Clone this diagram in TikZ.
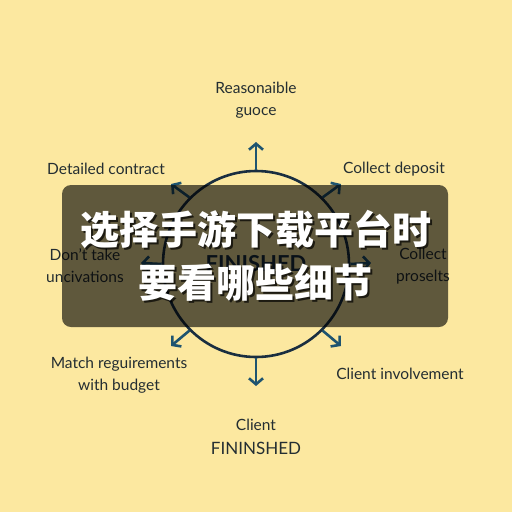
\documentclass[tikz,border=0pt]{standalone}
\usepackage{fontspec}
\setmainfont{Lato}
\newfontfamily\cjk{Noto Sans CJK SC}
\usetikzlibrary{arrows.meta}
\definecolor{bg}{RGB}{252,232,160}
\definecolor{ink}{RGB}{36,46,50}
\definecolor{ring}{RGB}{26,46,64}
\definecolor{arr}{RGB}{30,84,112}
\tikzset{
  lbl/.style={text=ink,font=\fontsize{15.5}{22}\selectfont,align=center,inner sep=0pt},
  ray/.style={draw=arr,line width=2.6pt,-{Straight Barb[length=6pt,width=14pt,line width=2.6pt]}},
  cn/.style={font=\cjk\bfseries\fontsize{39}{53}\selectfont,align=center,inner sep=0pt}
}
\begin{document}
\begin{tikzpicture}[x=1pt,y=-1pt]
\fill[bg] (0,0) rectangle (512,512);
\useasboundingbox (0,0) rectangle (512,512);
\node[circle,draw=ring,line width=2.6pt,minimum size=186pt,inner sep=0pt] (c) at (256,264) {};
\node[text=ring,font=\bfseries\fontsize{22}{24}\selectfont] (fin) at (256,264) {FINISHED};
\coordinate (tN) at (256,142);
\coordinate (tS) at (256,386);
\coordinate (tW) at (141,263);
\coordinate (tE) at (371,263);
\coordinate (tNW) at (171,184);
\coordinate (tNE) at (341,184);
\coordinate (tSW) at (171,346);
\coordinate (tSE) at (341,346);
\draw[ray] (c.90) -- (tN);
\draw[ray] (c.270) -- (tS);
\draw[ray] (c.180) -- (tW);
\draw[ray] (c.0) -- (tE);
\draw[ray] (c.135) -- (tNW);
\draw[ray] (c.45) -- (tNE);
\draw[ray] (c.225) -- (tSW);
\draw[ray] (c.315) -- (tSE);
\node[lbl] (l1) at (256,100) {Reasonaible\\guoce};
\node[lbl] (l2) at (106,169) {Detailed contract};
\node[lbl] (l3) at (394,169) {Collect deposit};
\node[lbl] (l4) at (85,266) {Don't take\\uncivations};
\node[lbl] (l5) at (423,266) {Collect\\proselts};
\node[lbl] (l6) at (119,375) {Match reguirements\\with budget};
\node[lbl] (l7) at (400,374) {Client involvement};
\node[lbl] (l8) at (256,425) {Client};
\node[lbl,font=\fontsize{17}{20}\selectfont] (l9) at (256,448) {FININSHED};
\fill[black,fill opacity=0.62,rounded corners=9pt] (62,185) rectangle (448,327);
\node[cn,text=black,opacity=0.7] (sh) at (258,258) {选择手游下载平台时\\要看哪些细节};
\node[cn,text=white] (title) at (256,256) {选择手游下载平台时\\要看哪些细节};
\end{tikzpicture}
\end{document}
